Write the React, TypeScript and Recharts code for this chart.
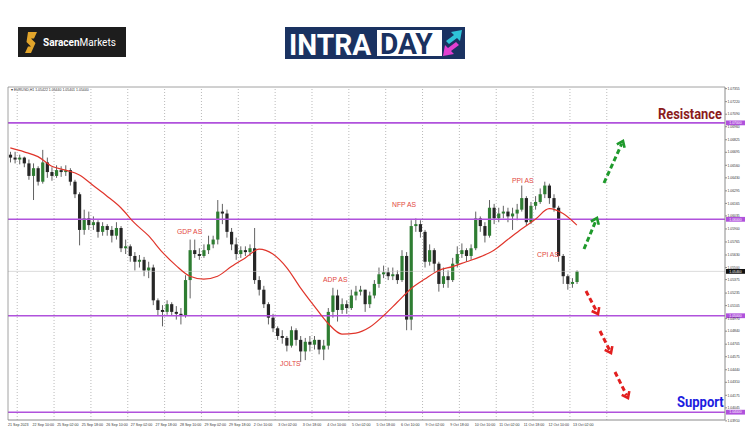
import React from "react";
import { ComposedChart, Bar, Line, XAxis, YAxis, ReferenceLine } from "recharts";

// EURUSD 3-hour candles (21 Sep 18:00 -> 13 Oct 04:00)
const firstOpen = 1.0667;
const closes = [
  1.0664, 1.0662, 1.0664, 1.0658, 1.0645, 1.0653, 1.0639, 1.0659, 1.0649, 1.0645,
  1.0651, 1.0649, 1.0651, 1.0639, 1.0626, 1.0589, 1.0601, 1.0594, 1.0597, 1.0587,
  1.0593, 1.0589, 1.0583, 1.0591, 1.057, 1.0572, 1.0562, 1.0556, 1.0558, 1.0547,
  1.055, 1.0516, 1.0506, 1.0504, 1.0512, 1.0504, 1.0502, 1.05, 1.0537, 1.0568,
  1.0564, 1.0562, 1.0568, 1.0574, 1.0579, 1.0608, 1.0606, 1.0587, 1.0574, 1.0564,
  1.0568, 1.0566, 1.057, 1.0537, 1.0527, 1.0512, 1.0498, 1.0487, 1.0479, 1.0477,
  1.0469, 1.0485, 1.0475, 1.0463, 1.0473, 1.047, 1.0475, 1.0465, 1.0469, 1.0504,
  1.0521, 1.0506, 1.0512, 1.0508, 1.0521, 1.0525, 1.0527, 1.0512, 1.0521, 1.0533,
  1.0543, 1.0545, 1.0541, 1.0543, 1.0537, 1.0562, 1.0496, 1.0593, 1.0595, 1.0587,
  1.0556, 1.0568, 1.0554, 1.0533, 1.0541, 1.0537, 1.0554, 1.0564, 1.0568, 1.0562,
  1.057, 1.0601, 1.0593, 1.0583, 1.0612, 1.0601, 1.0606, 1.0608, 1.0603, 1.0606,
  1.061, 1.0622, 1.0597, 1.0614, 1.0618, 1.0626, 1.0635, 1.0622, 1.0612, 1.0562,
  1.0541, 1.0533, 1.0535, 1.0546,
];
const highs = [
  1.067, 1.067, 1.0667, 1.0665, 1.0662, 1.0658, 1.0655, 1.0672, 1.0664, 1.0654,
  1.0656, 1.0655, 1.0656, 1.0653, 1.0641, 1.0628, 1.061, 1.0608, 1.0603, 1.0599,
  1.0597, 1.0595, 1.0593, 1.0597, 1.0593, 1.0579, 1.0574, 1.0566, 1.0563, 1.0561,
  1.0556, 1.0553, 1.0518, 1.0511, 1.0516, 1.0514, 1.051, 1.0508, 1.0542, 1.0579,
  1.0579, 1.057, 1.0574, 1.0583, 1.0583, 1.062, 1.0616, 1.061, 1.0591, 1.0581,
  1.0572, 1.0572, 1.0574, 1.0591, 1.0541, 1.0531, 1.0514, 1.0502, 1.0489, 1.0485,
  1.0479, 1.0489, 1.0487, 1.0479, 1.0477, 1.0479, 1.0479, 1.0475, 1.0475, 1.0508,
  1.0529, 1.0527, 1.0518, 1.0516, 1.0527, 1.0531, 1.0531, 1.0527, 1.0525, 1.0537,
  1.055, 1.0552, 1.055, 1.055, 1.0547, 1.0568, 1.0566, 1.0599, 1.0601, 1.0599,
  1.0589, 1.0574, 1.057, 1.0556, 1.055, 1.0547, 1.056, 1.0572, 1.0575, 1.057,
  1.0574, 1.0608, 1.0603, 1.0597, 1.062, 1.0616, 1.0612, 1.0614, 1.0612, 1.0612,
  1.0616, 1.0635, 1.0624, 1.0618, 1.0624, 1.0632, 1.0639, 1.0637, 1.0626, 1.0614,
  1.0564, 1.0543, 1.0539, 1.0547,
];
const lows = [
  1.0659, 1.0658, 1.0657, 1.0654, 1.0641, 1.062, 1.0635, 1.0637, 1.0643, 1.064,
  1.0643, 1.0644, 1.0645, 1.0635, 1.0622, 1.0573, 1.0584, 1.0589, 1.0589, 1.0581,
  1.0583, 1.0583, 1.0576, 1.0579, 1.0566, 1.0564, 1.0556, 1.0547, 1.055, 1.0541,
  1.0539, 1.0511, 1.05, 1.0489, 1.0501, 1.05, 1.0496, 1.0491, 1.0498, 1.0518,
  1.056, 1.0558, 1.056, 1.0564, 1.057, 1.0574, 1.0595, 1.0581, 1.0568, 1.0558,
  1.056, 1.0562, 1.0562, 1.0533, 1.0521, 1.0508, 1.0491, 1.0483, 1.0475, 1.0471,
  1.0463, 1.0467, 1.0469, 1.0452, 1.0454, 1.0463, 1.0465, 1.046, 1.0454, 1.0465,
  1.0498, 1.0494, 1.0502, 1.0502, 1.0506, 1.0516, 1.0521, 1.0504, 1.0508, 1.0518,
  1.0529, 1.0539, 1.0537, 1.0537, 1.0533, 1.0535, 1.0485, 1.0485, 1.0587, 1.0581,
  1.055, 1.0552, 1.0545, 1.0525, 1.0529, 1.0529, 1.0535, 1.055, 1.056, 1.0556,
  1.0558, 1.0568, 1.0587, 1.0576, 1.0581, 1.0595, 1.0597, 1.0601, 1.0597, 1.0589,
  1.0599, 1.0608, 1.0593, 1.0595, 1.061, 1.0616, 1.0622, 1.0616, 1.0608, 1.0556,
  1.0533, 1.0527, 1.0529, 1.0533,
];
// red moving average, read every third candle
const maEvery3 = [
  1.0674, 1.067, 1.0665, 1.0655, 1.0651, 1.0646, 1.0635, 1.0624, 1.0612, 1.0596,
  1.0583, 1.0566, 1.0552, 1.0541, 1.0538, 1.0541, 1.0551, 1.056, 1.0569, 1.0564,
  1.055, 1.0529, 1.051, 1.0492, 1.0481, 1.0482, 1.0488, 1.05, 1.0514, 1.0528,
  1.0538, 1.0547, 1.0551, 1.0556, 1.0561, 1.0568, 1.0579, 1.059, 1.06, 1.0611,
  1.0606, 1.0594,
];

// time axis in trading hours from 21 Sep 18:00
const xTickHours = [0, 16, 32, 48, 64, 80, 96, 112, 128, 144, 160, 176, 192, 208, 224, 240, 256, 272, 288, 304, 320, 336, 352, 368];
const xTickLabels = [
  "21 Sep 2023", "22 Sep 10:00", "25 Sep 02:00", "25 Sep 18:00", "26 Sep 10:00", "27 Sep 02:00",
  "27 Sep 18:00", "28 Sep 10:00", "29 Sep 02:00", "29 Sep 18:00", "2 Oct 10:00", "3 Oct 02:00",
  "3 Oct 18:00", "4 Oct 10:00", "5 Oct 02:00", "5 Oct 18:00", "6 Oct 10:00", "9 Oct 02:00",
  "9 Oct 18:00", "10 Oct 10:00", "11 Oct 02:00", "11 Oct 18:00", "12 Oct 10:00", "13 Oct 02:00",
];
const dayStartHours = [6, 30, 54, 78, 102, 126, 150, 174, 198, 222, 246, 270, 294, 318, 342, 366, 390];
const yTicks = [
  1.07355, 1.0722, 1.0709, 1.0696, 1.06825, 1.06695, 1.0656, 1.0643, 1.06295, 1.06165,
  1.06035, 1.059, 1.05765, 1.0563, 1.055, 1.05375, 1.05235, 1.05105, 1.0497, 1.0484,
  1.04705, 1.04575, 1.0444, 1.0431, 1.04175, 1.04045, 1.0391,
];
const levels = [1.07, 1.06, 1.05, 1.04];

const rows = closes.map((close, j) => ({
  t: 3 * j + 1.5,
  open: j === 0 ? firstOpen : closes[j - 1],
  close,
  high: highs[j],
  low: lows[j],
  range: [lows[j], highs[j]],
  ma: j % 3 === 0 ? maEvery3[j / 3] : null,
}));
const lastPrice = closes[closes.length - 1];

const PURPLE = "#b052dc";
const FONT = "Liberation Sans, Arial, sans-serif";

function Candle(props: any) {
  const { x, y, width, height, payload } = props;
  if (!payload) return null;
  const { open, close, high, low } = payload;
  const top = Math.min(y, y + height);
  const h = Math.abs(height);
  const k = high === low ? 0 : h / (high - low);
  const cx = x + width / 2;
  const yo = top + (high - open) * k;
  const yc = top + (high - close) * k;
  const up = close >= open;
  const color = up ? "#2e7d32" : "#262626";
  return (
    <g>
      <line x1={cx} x2={cx} y1={top} y2={top + h} stroke="#505050" strokeWidth={0.9} />
      <rect x={cx - 1.6} y={Math.min(yo, yc)} width={3.2} height={Math.max(Math.abs(yo - yc), 0.8)} fill={color} />
    </g>
  );
}

function XTick(props: any) {
  const { x, y, payload } = props;
  const label = xTickLabels[xTickHours.indexOf(payload.value)];
  return (
    <text x={x} y={y + 6.2} fontSize={3.6} fill="#333" fontFamily={FONT}>
      {label}
    </text>
  );
}

function YTick(props: any) {
  const { x, y, payload } = props;
  return (
    <text x={x - 1.5} y={y + 1.2} fontSize={3.4} fill="#333" fontFamily={FONT}>
      {payload.value.toFixed(5)}
    </text>
  );
}

function PriceTag(props: any) {
  const { viewBox, fill, value } = props;
  if (!viewBox) return null;
  const x = viewBox.x + viewBox.width + 1;
  const y = viewBox.y;
  return (
    <g>
      <rect x={x} y={y - 2.4} width={19} height={4.8} fill={fill} />
      <text x={x + 9.5} y={y + 1.2} fontSize={3.4} fill="#fff" textAnchor="middle" fontFamily={FONT}>
        {value.toFixed(5)}
      </text>
    </g>
  );
}

function Arrow({ x1, y1, x2, y2, color }: { x1: number; y1: number; x2: number; y2: number; color: string }) {
  const a = Math.atan2(y2 - y1, x2 - x1);
  const L = 7;
  const s = 0.65;
  const p1 = [x2 - L * Math.cos(a - s), y2 - L * Math.sin(a - s)];
  const p2 = [x2 - L * Math.cos(a + s), y2 - L * Math.sin(a + s)];
  const ex = x2 - 3 * Math.cos(a);
  const ey = y2 - 3 * Math.sin(a);
  return (
    <g>
      <line x1={x1} y1={y1} x2={ex} y2={ey} stroke={color} strokeWidth={3} strokeDasharray="5 3" />
      <polyline points={`${p1[0]},${p1[1]} ${x2},${y2} ${p2[0]},${p2[1]}`} fill="none" stroke={color} strokeWidth={2.6} />
    </g>
  );
}

export default function App() {
  return (
    <div style={{ position: "absolute", left: 0, top: 0, width: 750, height: 430, background: "#fff", overflow: "hidden" }}>
      <div style={{ position: "absolute", left: 0, top: 0 }}>
        <ComposedChart width={750} height={430} data={rows} margin={{ top: 87, right: 0, bottom: 0, left: 8 }}>
          <XAxis
            dataKey="t"
            type="number"
            domain={[0, 467]}
            allowDataOverflow
            ticks={xTickHours}
            interval={0}
            tick={<XTick />}
            tickLine={false}
            tickSize={0}
            tickMargin={0}
            height={10}
            axisLine={{ stroke: "#8a8a8a" }}
          />
          <YAxis
            orientation="right"
            type="number"
            domain={[1.03919, 1.07372]}
            allowDataOverflow
            ticks={yTicks}
            interval={0}
            tick={<YTick />}
            tickSize={2}
            width={25}
            axisLine={{ stroke: "#8a8a8a" }}
            tickLine={{ stroke: "#8a8a8a" }}
          />
          {dayStartHours.map((h) => (
            <ReferenceLine key={h} x={h} stroke="#9c9c9c" strokeWidth={0.7} strokeDasharray="1 2" />
          ))}
          <ReferenceLine y={lastPrice} stroke="#c4c4c4" strokeWidth={0.6} label={<PriceTag fill="#111" value={lastPrice} />} />
          {levels.map((v) => (
            <ReferenceLine key={v} y={v} stroke={PURPLE} strokeWidth={1.6} label={<PriceTag fill={PURPLE} value={v} />} />
          ))}
          <Bar dataKey="range" barSize={3} shape={<Candle />} isAnimationActive={false} />
          <Line dataKey="ma" type="monotone" stroke="#e0352b" strokeWidth={1.2} dot={false} connectNulls isAnimationActive={false} />
        </ComposedChart>
      </div>

      <svg width={750} height={430} style={{ position: "absolute", left: 0, top: 0, pointerEvents: "none" }}>
        {/* frame */}
        <line x1={8} y1={87} x2={725} y2={87} stroke="#8a8a8a" strokeWidth={0.8} />
        <line x1={8} y1={87} x2={8} y2={420} stroke="#8a8a8a" strokeWidth={0.8} />
        <text x={11} y={91} fontSize={3.5} fill="#333" fontFamily={FONT}>
          ▾ EURUSD,H1 1.05422 1.05440 1.05401 1.05440
        </text>

        {/* Saracen Markets logo */}
        <rect x={18} y={27} width={108} height={30} fill="#1d1d1d" />
        <polygon points="28,32 37,32 34,38.5 31,38.5 35.5,43 31,53 25,53 28,46.5 31,46.5 26.5,42" fill="#e2a52b" />
        <text x={43} y={46} fontSize={10} fill="#fff" fontFamily="Roboto, sans-serif">
          <tspan fontWeight="bold">Saracen</tspan>
          <tspan fontWeight="normal">Markets</tspan>
        </text>

        {/* INTRADAY logo */}
        <rect x={285} y={27} width={180} height={32} fill="#1a3261" />
        <text transform="translate(289,55) scale(0.94,1)" fontSize={30} fontWeight="bold" fill="#fff" fontFamily="Roboto, sans-serif">
          INTRA
        </text>
        <rect x={377} y={30} width={65} height={26} fill="#fff" />
        <text transform="translate(380,54) scale(0.94,1)" fontSize={30} fontWeight="bold" fill="#1a3261" fontFamily="Roboto, sans-serif">
          DAY
        </text>
        <polygon points="446,41 454,35 451,32 462,30 460,41 457,38 449,44" fill="#2ec4d8" />
        <polygon points="459,45 451,51 454,54 443,56 445,45 448,48 456,42" fill="#e23fd0" />

        {/* levels */}
        <text transform="translate(658,119) scale(0.86,1)" fontSize={15} fontWeight="bold" fill="#8b1c1c" fontFamily="Roboto, sans-serif">
          Resistance
        </text>
        <text transform="translate(677,407) scale(0.93,1)" fontSize={14} fontWeight="bold" fill="#1c1ce0" fontFamily="Roboto, sans-serif">
          Support
        </text>

        {/* events */}
        <g fontSize={6.8} fill="#e2463d" fontFamily={FONT}>
          <text x={177} y={234}>GDP AS</text>
          <text x={392} y={207}>NFP AS</text>
          <text x={323} y={282}>ADP AS</text>
          <text x={280} y={366}>JOLTS</text>
          <text x={512} y={183}>PPI AS</text>
          <text x={537} y={257}>CPI AS</text>
        </g>

        {/* scenario arrows */}
        <Arrow x1={584} y1={249} x2={597} y2={218} color="#1f9a2c" />
        <Arrow x1={604} y1={183} x2={623} y2={141} color="#1f9a2c" />
        <Arrow x1={586} y1={291} x2={598} y2={314} color="#e21f1f" />
        <Arrow x1={600} y1={331} x2={611} y2={353} color="#e21f1f" />
        <Arrow x1={615} y1={372} x2={628} y2={398} color="#e21f1f" />
      </svg>
    </div>
  );
}
